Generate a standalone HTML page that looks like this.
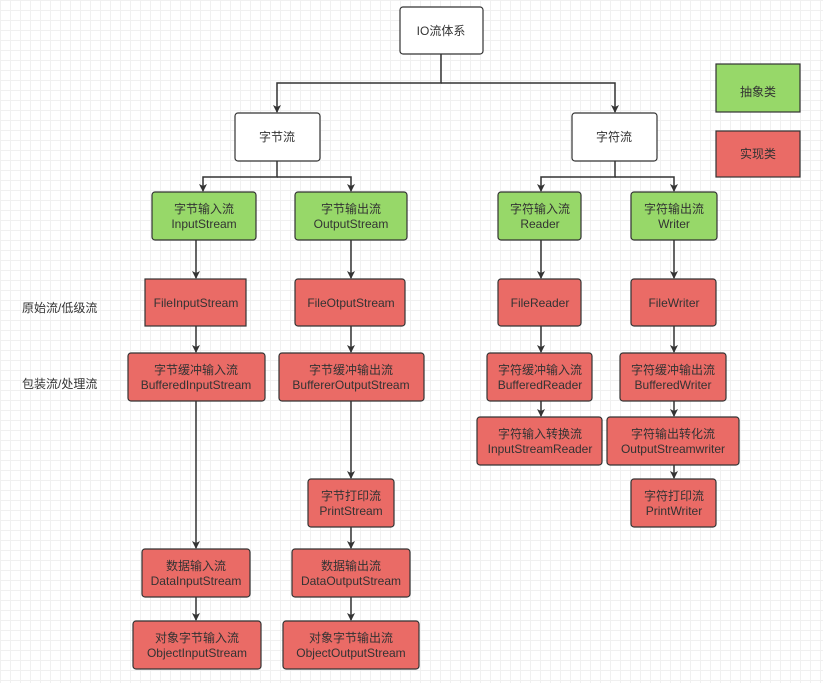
<!DOCTYPE html>
<html><head><meta charset="utf-8"><style>
html,body{margin:0;padding:0;}
body{width:823px;height:678px;overflow:hidden;background:#fff;
background-image:linear-gradient(#f0f0f0 1px,transparent 1px),linear-gradient(90deg,#f0f0f0 1px,transparent 1px);
background-size:10px 10px;font-family:"Liberation Sans","Noto Sans CJK SC",sans-serif;}
text{font-family:"Liberation Sans","Noto Sans CJK SC",sans-serif;font-size:12px;fill:#333;}
</style></head><body>
<svg width="823" height="678" xmlns="http://www.w3.org/2000/svg">
<defs><marker id="a" markerWidth="8" markerHeight="8" refX="7" refY="4" orient="auto" markerUnits="userSpaceOnUse"><path d="M0,0 L8,4 L0,8 L2,4 z" fill="#333"/></marker></defs>
<g stroke="#333" stroke-width="1.5" fill="none">
<path d="M441,54V83H277V112" marker-end="url(#a)"/>
<path d="M441,83H615V112" marker-end="url(#a)"/>
<path d="M277,161V177H203V191" marker-end="url(#a)"/>
<path d="M277,177H351V191" marker-end="url(#a)"/>
<path d="M615,161V177H541V191" marker-end="url(#a)"/>
<path d="M615,177H674V191" marker-end="url(#a)"/>
<path d="M196,240V278" marker-end="url(#a)"/><path d="M196,326V352" marker-end="url(#a)"/><path d="M196,401V548" marker-end="url(#a)"/><path d="M196,597V620" marker-end="url(#a)"/>
<path d="M351,240V278" marker-end="url(#a)"/><path d="M351,326V352" marker-end="url(#a)"/><path d="M351,401V478" marker-end="url(#a)"/><path d="M351,527V548" marker-end="url(#a)"/><path d="M351,597V620" marker-end="url(#a)"/>
<path d="M541,240V278" marker-end="url(#a)"/><path d="M541,326V352" marker-end="url(#a)"/><path d="M541,401V416" marker-end="url(#a)"/>
<path d="M674,240V278" marker-end="url(#a)"/><path d="M674,326V352" marker-end="url(#a)"/><path d="M674,401V416" marker-end="url(#a)"/><path d="M674,465V478" marker-end="url(#a)"/>
</g>
<g stroke="#333" stroke-width="1.2">
<rect x="400" y="7" width="83" height="47" rx="3" fill="#fff"/>
<rect x="235" y="113" width="85" height="48" rx="3" fill="#fff"/>
<rect x="572" y="113" width="85" height="48" rx="3" fill="#fff"/>
<g fill="#97d869">
<rect x="152" y="192" width="104" height="48" rx="3"/>
<rect x="295" y="192" width="112" height="48" rx="3"/>
<rect x="498" y="192" width="83" height="48" rx="3"/>
<rect x="631" y="192" width="86" height="48" rx="3"/>
<rect x="716" y="64" width="84" height="48"/>
</g>
<g fill="#ea6b66">
<rect x="145" y="279" width="101" height="47"/>
<rect x="295" y="279" width="110" height="47" rx="3"/>
<rect x="498" y="279" width="83" height="47" rx="3"/>
<rect x="631" y="279" width="85" height="47" rx="3"/>
<rect x="128" y="353" width="137" height="48" rx="3"/>
<rect x="279" y="353" width="145" height="48" rx="3"/>
<rect x="487" y="353" width="105" height="48" rx="3"/>
<rect x="620" y="353" width="106" height="48" rx="3"/>
<rect x="477" y="417" width="125" height="48" rx="3"/>
<rect x="607" y="417" width="132" height="48" rx="3"/>
<rect x="631" y="479" width="85" height="48" rx="3"/>
<rect x="308" y="479" width="86" height="48" rx="3"/>
<rect x="142" y="549" width="108" height="48" rx="3"/>
<rect x="292" y="549" width="118" height="48" rx="3"/>
<rect x="133" y="621" width="128" height="48" rx="3"/>
<rect x="283" y="621" width="136" height="48" rx="3"/>
<rect x="716" y="131" width="84" height="46"/>
</g></g>
<g text-anchor="middle">
<text x="441" y="35">IO流体系</text>
<text x="277" y="141">字节流</text>
<text x="614" y="141">字符流</text>
<text x="758" y="96">抽象类</text>
<text x="758" y="158">实现类</text>
<text x="204" y="213">字节输入流</text><text x="204" y="228">InputStream</text>
<text x="351" y="213">字节输出流</text><text x="351" y="228">OutputStream</text>
<text x="540" y="213">字符输入流</text><text x="540" y="228">Reader</text>
<text x="674" y="213">字符输出流</text><text x="674" y="228">Writer</text>
<text x="196" y="307">FileInputStream</text>
<text x="351" y="307">FileOtputStream</text>
<text x="540" y="307">FileReader</text>
<text x="674" y="307">FileWriter</text>
<text x="196" y="374">字节缓冲输入流</text><text x="196" y="389">BufferedInputStream</text>
<text x="351" y="374">字节缓冲输出流</text><text x="351" y="389">BuffererOutputStream</text>
<text x="540" y="374">字符缓冲输入流</text><text x="540" y="389">BufferedReader</text>
<text x="673" y="374">字符缓冲输出流</text><text x="673" y="389">BufferedWriter</text>
<text x="540" y="438">字符输入转换流</text><text x="540" y="453">InputStreamReader</text>
<text x="673" y="438">字符输出转化流</text><text x="673" y="453">OutputStreamwriter</text>
<text x="674" y="500">字符打印流</text><text x="674" y="515">PrintWriter</text>
<text x="351" y="500">字节打印流</text><text x="351" y="515">PrintStream</text>
<text x="196" y="570">数据输入流</text><text x="196" y="585">DataInputStream</text>
<text x="351" y="570">数据输出流</text><text x="351" y="585">DataOutputStream</text>
<text x="197" y="642">对象字节输入流</text><text x="197" y="657">ObjectInputStream</text>
<text x="351" y="642">对象字节输出流</text><text x="351" y="657">ObjectOutputStream</text>
</g>
<text x="22" y="312">原始流/低级流</text>
<text x="22" y="388">包装流/处理流</text>
</svg>
</body></html>
